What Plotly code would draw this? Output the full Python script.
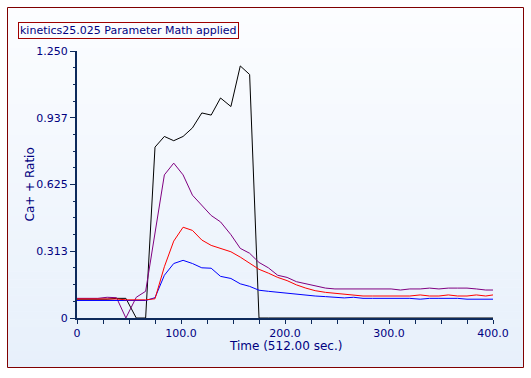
import plotly.graph_objects as go

# ---- data ----
times = [0, 11, 20, 29, 38, 47, 57, 66, 75, 84, 93, 102, 111, 120, 129, 138, 148, 157, 166, 175,
         184, 193, 202, 211, 220, 229, 239, 248, 257, 266, 275, 284, 293, 302, 311, 320, 330, 339,
         348, 357, 366, 375, 384, 393, 400]

black = [0.088, 0.088, 0.088, 0.088, 0.092, 0.092, 0.0, 0.0, 0.80, 0.85, 0.83, 0.85, 0.89, 0.96,
         0.95, 1.03, 0.99, 1.18, 1.14, 0.0, 0.0, 0.0, 0.0, 0.0, 0.0, 0.0, 0.0, 0.0, 0.0, 0.0, 0.0,
         0.0, 0.0, 0.0, 0.0, 0.0, 0.0, 0.0, 0.0, 0.0, 0.0, 0.0, 0.0, 0.0, 0.0]

purple = [0.092, 0.092, 0.092, 0.097, 0.095, 0.0, 0.097, 0.125, 0.40, 0.67, 0.725, 0.67, 0.575,
          0.53, 0.48, 0.45, 0.39, 0.326, 0.303, 0.26, 0.235, 0.20, 0.19, 0.17, 0.16, 0.15, 0.14,
          0.136, 0.136, 0.136, 0.136, 0.136, 0.133, 0.136, 0.131, 0.136, 0.136, 0.14, 0.136,
          0.14, 0.14, 0.14, 0.136, 0.131, 0.131]

red = [0.089, 0.089, 0.089, 0.089, 0.089, 0.085, 0.085, 0.085, 0.09, 0.24, 0.36, 0.425, 0.41,
       0.365, 0.34, 0.325, 0.31, 0.285, 0.255, 0.228, 0.21, 0.19, 0.175, 0.155, 0.14, 0.128,
       0.12, 0.115, 0.112, 0.108, 0.103, 0.103, 0.103, 0.103, 0.103, 0.103, 0.108, 0.103,
       0.103, 0.108, 0.103, 0.103, 0.108, 0.103, 0.108]

blue = [0.082, 0.082, 0.082, 0.082, 0.082, 0.082, 0.082, 0.082, 0.095, 0.20, 0.255, 0.27, 0.255,
        0.235, 0.233, 0.195, 0.185, 0.16, 0.148, 0.13, 0.125, 0.12, 0.115, 0.11, 0.107, 0.103,
        0.10, 0.097, 0.094, 0.097, 0.092, 0.092, 0.092, 0.092, 0.092, 0.092, 0.088, 0.092,
        0.092, 0.092, 0.092, 0.088, 0.088, 0.088, 0.088]

y_tickvals = [0, 0.3125, 0.625, 0.9375, 1.25]
y_ticktext = ["0", "0.313", "0.625", "0.937", "1.250"]
x_tickvals = [0, 100, 200, 300, 400]
x_ticktext = ["0", "100.0", "200.0", "300.0", "400.0"]

title_text = "kinetics25.025 Parameter Math applied"
x_title = "Time (512.00 sec.)"
y_title = "Ca+ + Ratio"

# ---- layout geometry (pixels) ----
W, H = 531, 378
L, R, T, B = 77, 38, 51, 60
PW = W - L - R
PH = H - T - B


def px_x(px):
    return (px - L) / PW


def px_y(py):
    return (H - B - py) / PH


FONT = "DejaVu Sans, Verdana, sans-serif"
NAVY = "#000080"
AXIS = "#0d2a5c"

fig = go.Figure()
for vals, col in [(black, "#000000"), (purple, "#800080"), (blue, "#0000ff"), (red, "#ff0000")]:
    fig.add_trace(go.Scatter(x=times, y=vals, mode="lines",
                             line=dict(color=col, width=1), hoverinfo="skip"))

# gradient background strips
shapes = []
top, bot = 8, 367
n = 45
c0 = (252, 253, 255)
c1 = (231, 240, 251)
for i in range(n):
    y0 = top + (bot - top) * i / n
    y1 = top + (bot - top) * (i + 1) / n + 0.6
    f = (i + 0.5) / n
    c = tuple(round(c0[k] + (c1[k] - c0[k]) * f) for k in range(3))
    shapes.append(dict(type="rect", xref="paper", yref="paper", layer="below",
                       x0=px_x(8), x1=px_x(523), y0=px_y(y1), y1=px_y(y0),
                       fillcolor="rgb(%d,%d,%d)" % c, line=dict(width=0)))
shapes.append(dict(type="rect", xref="paper", yref="paper", layer="below",
                   x0=px_x(7.5), x1=px_x(523.5), y0=px_y(367.5), y1=px_y(7.5),
                   line=dict(color="#800000", width=1), fillcolor="rgba(0,0,0,0)"))

annotations = [
    dict(text=title_text, xref="paper", yref="paper", x=px_x(18), y=px_y(30),
         xanchor="left", yanchor="middle", showarrow=False,
         font=dict(family=FONT, size=11, color=NAVY),
         bordercolor="#a00000", borderwidth=1, borderpad=1),
    dict(text=x_title, xref="paper", yref="paper", x=0.5, y=px_y(346),
         xanchor="center", yanchor="middle", showarrow=False,
         font=dict(family=FONT, size=12, color=NAVY)),
    dict(text=y_title, xref="paper", yref="paper", x=px_x(29), y=0.5,
         xanchor="center", yanchor="middle", showarrow=False, textangle=-90,
         font=dict(family=FONT, size=12, color=NAVY)),
]

fig.update_layout(
    width=W, height=H,
    margin=dict(l=L, r=R, t=T, b=B),
    paper_bgcolor="white", plot_bgcolor="rgba(0,0,0,0)",
    showlegend=False, hovermode=False,
    shapes=shapes, annotations=annotations,
    font=dict(family=FONT, size=11, color=NAVY),
)
fig.update_xaxes(range=[0, 400], showgrid=False, zeroline=False,
                 showline=True, linecolor=AXIS, linewidth=2,
                 tickmode="array", tickvals=x_tickvals, ticktext=x_ticktext,
                 ticks="outside", ticklen=4, tickcolor=AXIS, tickwidth=1,
                 tickfont=dict(family=FONT, size=11, color=NAVY),
                 minor=dict(tickmode="linear", tick0=0, dtick=25, ticks="outside",
                            ticklen=4, tickcolor=AXIS, tickwidth=1, showgrid=False))
fig.update_yaxes(range=[0, 1.25], showgrid=False, zeroline=False,
                 showline=True, linecolor=AXIS, linewidth=2,
                 tickmode="array", tickvals=y_tickvals, ticktext=y_ticktext,
                 ticks="outside", ticklen=5, tickcolor=AXIS, tickwidth=1,
                 tickfont=dict(family=FONT, size=11, color=NAVY),
                 minor=dict(tickmode="linear", tick0=0, dtick=0.078125, ticks="outside",
                            ticklen=2, tickcolor=AXIS, tickwidth=1, showgrid=False))

fig.write_html("out.html", config={"displayModeBar": False},
               post_script="document.body.style.margin='0px';document.body.style.overflow='hidden';")
